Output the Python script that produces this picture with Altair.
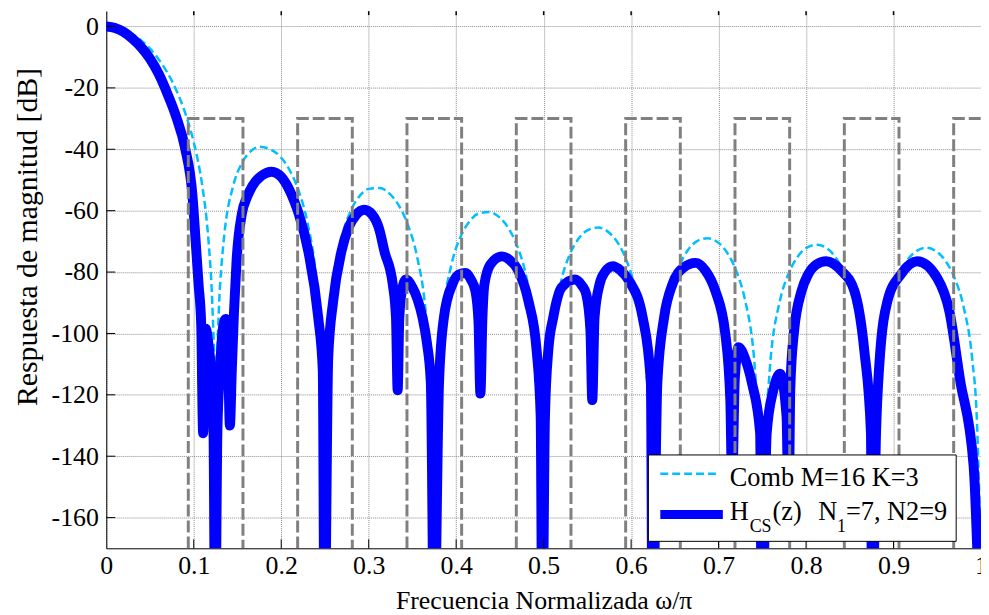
import altair as alt
import pandas as pd

# ---- data ----
freq_comb = [0, 0.01, 0.02, 0.03, 0.04, 0.05, 0.06, 0.07, 0.08, 0.09, 0.10, 0.11, 0.115, 0.12, 0.125,
             0.13, 0.135, 0.145, 0.155, 0.165, 0.175, 0.1875, 0.20, 0.21, 0.22, 0.23, 0.24, 0.245, 0.25,
             0.255, 0.26, 0.27, 0.28, 0.29, 0.30, 0.3125, 0.325, 0.335, 0.345, 0.355, 0.365, 0.37, 0.375,
             0.38, 0.385, 0.395, 0.405, 0.415, 0.425, 0.4375, 0.45, 0.46, 0.47, 0.48, 0.49, 0.495, 0.5,
             0.505, 0.51, 0.52, 0.53, 0.54, 0.55, 0.5625, 0.575, 0.585, 0.595, 0.605, 0.615, 0.62, 0.625,
             0.63, 0.635, 0.645, 0.655, 0.665, 0.675, 0.6875, 0.70, 0.71, 0.72, 0.73, 0.74, 0.745, 0.75,
             0.755, 0.76, 0.77, 0.78, 0.79, 0.80, 0.8125, 0.825, 0.835, 0.845, 0.855, 0.865, 0.87, 0.875,
             0.88, 0.885, 0.895, 0.905, 0.915, 0.925, 0.9375, 0.95, 0.96, 0.97, 0.98, 0.99, 0.995, 1.0]
db_comb = [0, -0.27, -1.10, -2.51, -4.53, -7.23, -10.72, -15.13, -20.74, -27.98, -37.76, -52.4, -63.8, -82.7, -112,
           -84.5, -67.6, -52.0, -44.5, -40.7, -39.2, -40.0, -42.75, -47.0, -53.6, -63.9, -82.3, -100.7, -125,
           -101.7, -84.4, -68.0, -59.7, -55.1, -52.9, -52.65, -54.8, -58.6, -64.8, -74.6, -92.5, -110.6, -124,
           -111.3, -93.7, -77.1, -68.5, -63.6, -61.0, -60.4, -62.3, -65.8, -71.7, -81.3, -99.0, -117.0, -125,
           -117.5, -99.9, -83.0, -74.2, -69.1, -66.4, -65.5, -67.2, -70.6, -76.4, -85.9, -103.4, -121.3, -130,
           -121.6, -103.9, -87.0, -78.1, -72.8, -70.0, -69.0, -70.5, -73.8, -79.5, -88.8, -106.3, -124.1, -132,
           -124.3, -106.6, -89.5, -80.5, -75.2, -72.2, -71.1, -72.5, -75.7, -81.3, -90.6, -107.9, -125.7, -132,
           -125.8, -108.1, -90.9, -81.8, -76.4, -73.4, -72.1, -73.5, -76.6, -82.1, -91.2, -108.5, -126.3, -175]

freq_hcs = [0.000, 0.010, 0.020, 0.030, 0.040, 0.050, 0.060, 0.070, 0.080, 0.090, 0.0985, 0.1024, 0.1055,
            0.1085, 0.1107, 0.1137, 0.1170, 0.1200, 0.1225, 0.1245, 0.1270, 0.1300, 0.1330, 0.1364, 0.1390,
            0.1413, 0.1435, 0.1460, 0.1490, 0.1550, 0.1610, 0.1670, 0.1780, 0.1890, 0.2000, 0.2080, 0.2150,
            0.2200, 0.2310, 0.2423, 0.2475, 0.2495, 0.2537, 0.2594, 0.2688, 0.2770, 0.2860, 0.2950, 0.3040,
            0.3120, 0.3180, 0.3275, 0.3312, 0.3331, 0.3350, 0.3380, 0.3426, 0.3500, 0.3560, 0.3615, 0.3665,
            0.3710, 0.3748, 0.3804, 0.3860, 0.3956, 0.4030, 0.4107, 0.4170, 0.4220, 0.4255, 0.4277, 0.4300,
            0.4323, 0.4390, 0.4523, 0.4610, 0.4694, 0.4826, 0.4920, 0.4966, 0.4985, 0.5015, 0.5053, 0.5110,
            0.5204, 0.5355, 0.5440, 0.5488, 0.5535, 0.5556, 0.5582, 0.5639, 0.5700, 0.5791, 0.5880, 0.5980,
            0.6132, 0.6226, 0.6245, 0.6300, 0.6377, 0.6472, 0.6600, 0.6737, 0.6850, 0.6964, 0.7077, 0.7134,
            0.7155, 0.7185, 0.7228, 0.7300, 0.7380, 0.7475, 0.7495, 0.7550, 0.7626, 0.7702, 0.7777, 0.7800,
            0.7820, 0.7860, 0.7948, 0.8023, 0.8120, 0.8231, 0.8400, 0.8553, 0.8666, 0.8742, 0.8755, 0.8800,
            0.8836, 0.8931, 0.9083, 0.9271, 0.9498, 0.9640, 0.9760, 0.9915, 0.9990]
db_hcs = [0, -0.5, -1.8, -4.0, -6.8, -10.5, -15.5, -22.0, -29.5, -39.5, -55.0, -71.0, -84.0,
          -97.0, -132.5, -98.5, -104.0, -113.0, -130.0, -200.0, -132.0, -112.0, -99.0, -95.3, -104.0,
          -130.0, -112.0, -93.0, -76.0, -61.0, -55.5, -52.0, -48.5, -47.3, -49.0, -52.5, -57.0,
          -61.0, -73.3, -94.8, -112.0, -200.0, -108.0, -89.4, -73.3, -65.5, -61.2, -59.7, -61.3,
          -66.0, -73.3, -84.0, -95.0, -118.5, -95.0, -86.0, -82.4, -85.0, -89.0, -94.8, -103.0,
          -116.0, -200.0, -116.0, -94.8, -84.0, -80.8, -80.3, -82.5, -86.2, -96.0, -119.6, -95.0,
          -84.0, -77.6, -74.9, -76.0, -78.7, -89.4, -105.6, -127.0, -200.0, -127.0, -105.6, -94.8,
          -85.1, -82.4, -84.5, -87.3, -99.0, -121.7, -94.8, -84.0, -80.0, -78.1, -79.5, -83.0,
          -94.8, -116.0, -200.0, -116.0, -94.8, -84.0, -78.5, -77.0, -79.5, -86.2, -100.2, -121.7,
          -150.0, -115.0, -104.5, -108.0, -116.0, -132.5, -200.0, -132.5, -118.5, -113.1, -127.0, -160.0,
          -118.0, -100.0, -86.2, -80.8, -77.5, -76.5, -79.5, -86.2, -105.6, -132.5, -200.0, -132.5,
          -110.9, -89.4, -80.8, -76.5, -81.9, -93.0, -115.0, -143.0, -200.0]

band_lo = [0.09375, 0.21875, 0.34375, 0.46875, 0.59375, 0.71875, 0.84375, 0.96875]
band_hi = [0.15625, 0.28125, 0.40625, 0.53125, 0.65625, 0.78125, 0.90625, 1.03125]
band_level = -30
floor_level = -170

x_ticks = [0, 0.1, 0.2, 0.3, 0.4, 0.5, 0.6, 0.7, 0.8, 0.9, 1]
y_ticks = [-160, -140, -120, -100, -80, -60, -40, -20, 0]

legend_comb = "Comb M=16 K=3"
legend_hcs = ["H", "CS", "(z)", "N", "1", "=7, N2=9"]

FONT = "Liberation Serif"

comb_df = pd.DataFrame({"f": freq_comb, "db": db_comb})
hcs_df = pd.DataFrame({"f": freq_hcs, "db": db_hcs})
rows = []
for i, (lo, hi) in enumerate(zip(band_lo, band_hi)):
    for k, (fx, yv) in enumerate([(lo, floor_level), (lo, band_level), (hi, band_level), (hi, floor_level)]):
        rows.append({"f": fx, "db": yv, "band": i, "o": k})
mask_df = pd.DataFrame(rows)

x_scale = alt.Scale(domain=[0, 1], nice=False, zero=False)
y_scale = alt.Scale(domain=[-170, 5], nice=False, zero=False)

x_axis = alt.Axis(values=x_ticks, format="~g", labelFont=FONT, labelFontSize=26, labelColor="black",
                  labelPadding=4, labelFlush=False, labelOverlap=False, ticks=False, tickSize=0,
                  domainColor="black", domainWidth=1, grid=True, gridColor="#8a8a8a", gridDash=[1, 1],
                  gridWidth=1, title="Frecuencia Normalizada ω/π", titleFont=FONT, titleFontSize=26,
                  titleFontWeight="normal", titleColor="black", titleY=61, titleBaseline="alphabetic")
y_axis = alt.Axis(values=y_ticks,
                  labelExpr="datum.value < 0 ? '-' + toString(-datum.value) : toString(datum.value)",
                  labelFont=FONT, labelFontSize=26, labelColor="black", labelPadding=8, labelOverlap=False,
                  ticks=False, tickSize=0, domainColor="black", domainWidth=1, grid=True,
                  gridColor="#8a8a8a", gridDash=[1, 1], gridWidth=1,
                  title="Respuesta de magnitud [dB]", titleFont=FONT, titleFontSize=30,
                  titleFontWeight="normal", titleColor="black", titleAngle=270, titleX=-79, titleY=227,
                  titleAlign="center", titleBaseline="middle")


def X(field):
    return alt.X(field, scale=x_scale, axis=x_axis, title="Frecuencia Normalizada ω/π")


def Y(field):
    return alt.Y(field, scale=y_scale, axis=y_axis, title="Respuesta de magnitud [dB]")


comb = alt.Chart(comb_df).mark_line(color="#00bfff", strokeWidth=2.5, strokeDash=[8, 4],
                                    interpolate="monotone", clip=True).encode(x=X("f:Q"), y=Y("db:Q"))
hcs = alt.Chart(hcs_df).mark_line(color="#0000ff", strokeWidth=10, strokeCap="round", strokeJoin="round",
                                  interpolate="monotone", clip=True).encode(x=X("f:Q"), y=Y("db:Q"))
mask = alt.Chart(mask_df).mark_line(color="#808080", strokeWidth=3, strokeDash=[12, 4], clip=True).encode(
    x=X("f:Q"), y=Y("db:Q"), detail="band:N", order="o:Q")

xt_df = pd.DataFrame({"f": x_ticks[1:-1]})
yt_df = pd.DataFrame({"db": y_ticks})
tick_bottom = alt.Chart(xt_df).mark_rule(color="black", strokeWidth=1).encode(
    x=X("f:Q"), y=alt.value(541), y2=alt.value(532))
tick_top = alt.Chart(xt_df).mark_rule(color="black", strokeWidth=1.5).encode(
    x=X("f:Q"), y=alt.value(0), y2=alt.value(4))
tick_left = alt.Chart(yt_df).mark_rule(color="black", strokeWidth=1).encode(
    y=Y("db:Q"), x=alt.value(0), x2=alt.value(9))

one = pd.DataFrame({"k": [0]})
leg_box = alt.Chart(one).mark_rect(fill="white", stroke="black", strokeWidth=1).encode(
    x=alt.value(546), x2=alt.value(856), y=alt.value(447), y2=alt.value(534))
leg_comb_line = alt.Chart(one).mark_rule(color="#00bfff", strokeWidth=2.5, strokeDash=[8, 4]).encode(
    x=alt.value(558), x2=alt.value(618), y=alt.value(466))
leg_hcs_line = alt.Chart(one).mark_rule(color="#0000ff", strokeWidth=9, strokeCap="butt").encode(
    x=alt.value(558), x2=alt.value(621), y=alt.value(507))


def txt(s, x, y, size):
    return alt.Chart(one).mark_text(text=s, align="left", baseline="alphabetic", font=FONT,
                                    fontSize=size, color="black").encode(x=alt.value(x), y=alt.value(y))


leg_texts = [
    txt(legend_comb, 628, 478, 26.5),
    txt(legend_hcs[0], 628, 513, 26.5),
    txt(legend_hcs[1], 648, 525, 18),
    txt(legend_hcs[2], 671, 513, 26.5),
    txt(legend_hcs[3], 717, 513, 26.5),
    txt(legend_hcs[4], 736, 525, 18),
    txt(legend_hcs[5], 745, 513, 26.5),
]

chart = alt.layer(comb, hcs, mask, tick_bottom, tick_top, tick_left,
                  leg_box, leg_comb_line, leg_hcs_line, *leg_texts).properties(
    width=881, height=541,
    padding={"left": 99, "top": 1, "right": 0, "bottom": 64},
    autosize=alt.AutoSizeParams(type="none"),
).configure(font=FONT).configure_view(stroke=None)

chart.save("out.html", embed_options={"renderer": "svg", "actions": False})
